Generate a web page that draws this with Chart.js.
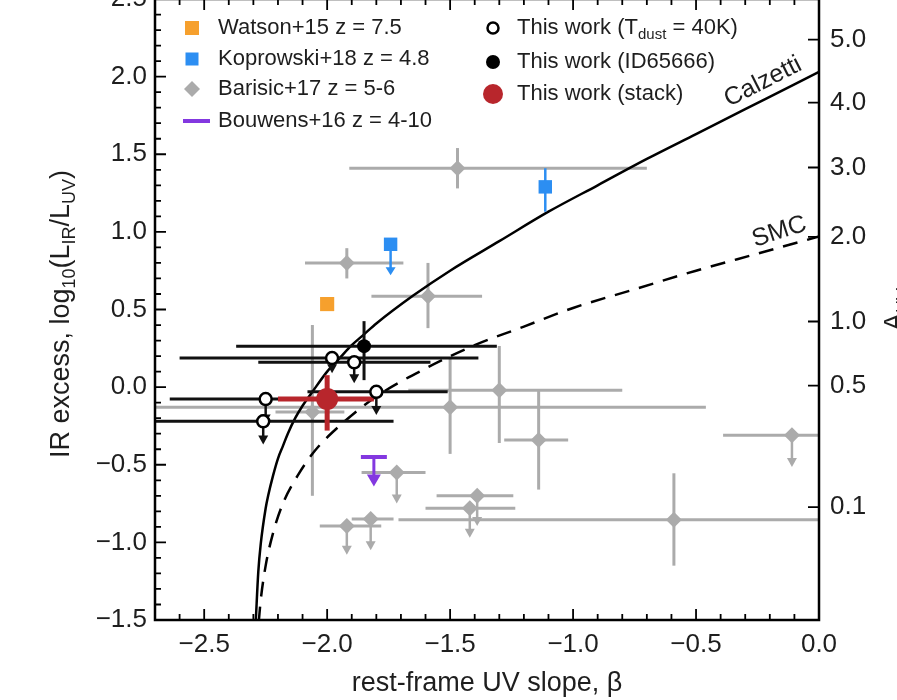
<!DOCTYPE html>
<html><head><meta charset="utf-8">
<script src="https://cdn.jsdelivr.net/npm/chart.js@4.4.0/dist/chart.umd.min.js"></script>
<style>
html,body{margin:0;padding:0;background:#fff;overflow:hidden;width:897px;height:700px}
#wrap{position:absolute;left:0;top:-20px;width:897px;height:720px}
</style></head><body>
<div id="wrap"><canvas id="c" width="897" height="720"></canvas></div>
<script>
const FONT = "'Liberation Sans', Arial, Helvetica, sans-serif";
const OY = 20; // canvas is shifted up by this many pixels (top of figure is cropped)

// ---- Barisic+17 z = 5-6 (detections) ----
const barBeta    = [-1.47, -1.92, -1.59, -2.06, -1.50, -1.30, -1.14, -0.59];
const barIRX     = [ 1.41,  0.80,  0.585,-0.16, -0.13, -0.02, -0.34, -0.855];
const barBetaLo  = [-1.91, -2.09, -1.82, -2.21, -2.80, -1.67, -1.28, -1.71];
const barBetaHi  = [-0.70, -1.69, -1.37, -1.93, -0.46, -0.80, -1.02,  0.05];
const barIRXLo   = [ 1.28,  0.70,  0.38, -0.70, -0.43, -0.36, -0.66, -1.15];
const barIRXHi   = [ 1.54,  0.895, 0.80,  0.40,  0.19,  0.265,-0.02, -0.555];
// ---- Barisic+17 upper limits ----
const barULBeta   = [-0.11, -1.717, -1.39, -1.42, -1.823, -1.92];
const barULIRX    = [-0.31, -0.55,  -0.70, -0.78, -0.85,  -0.895];
const barULBetaLo = [-0.39, -1.86,  -1.555,-1.60, -1.90,  -2.03];
const barULBetaHi = [ 0.00, -1.60,  -1.243,-1.235,-1.73,  -1.78];
const barULTip    = [-0.515,-0.75,  -0.895,-0.97, -1.05,  -1.08];
// ---- Watson+15 ----
const watBeta = [-2.0];
const watIRX  = [0.535];
// ---- Koprowski+18 ----
const kopBeta  = [-1.113];
const kopIRX   = [1.29];
const kopIRXLo = [1.13];
const kopIRXHi = [1.41];
const kopULBeta = [-1.742];
const kopULIRX  = [0.92];
const kopULTip  = [0.72];
// ---- Bouwens+16 ----
const bouBeta = [-1.81];
const bouIRX  = [-0.45];
const bouTip  = [-0.64];
// ---- This work (T_dust = 40K), upper limits ----
const twBeta   = [-1.98, -1.89, -1.80, -2.25, -2.26];
const twIRX    = [0.187, 0.16, -0.03, -0.077, -0.22];
const twBetaLo = [-2.60, -2.28, -2.08, -2.64, -2.80];
const twBetaHi = [-1.385,-1.58, -1.51, -1.85, -1.73];
const twTip    = [0.09, 0.025, -0.18, -0.235, -0.37];
// ---- This work (ID65666) ----
const idBeta = [-1.85];
const idIRX = [0.264];
const idBetaLo = [-2.37], idBetaHi = [-1.31];
const idIRXLo = [0.045], idIRXHi = [0.425];
// ---- This work (stack) ----
const stBeta = [-2.0];
const stIRX = [-0.077];
const stBetaLo = [-2.20], stBetaHi = [-1.81];
const stIRXLo = [-0.28], stIRXHi = [0.077];
// ---- relations ----
const calzBeta = [-2.29,-2.28,-2.27,-2.25,-2.24,-2.22,-2.2,-2.18,-2.16,-2.13,-2.1,-2.06,-2.0,-1.95,-1.9,-1.85,-1.8,-1.65,-1.5,-1.3,-1.1,-0.9,-0.7,-0.5,-0.3,-0.1,0.0];
const calzIRX  = [-1.50,-1.19,-1.01,-0.78,-0.70,-0.57,-0.46,-0.38,-0.30,-0.20,-0.12,-0.03,0.10,0.185,0.27,0.34,0.41,0.59,0.75,0.94,1.13,1.30,1.47,1.63,1.79,1.95,2.03];
const smcBeta = [-2.278,-2.27,-2.25,-2.22,-2.18,-2.12,-2.05,-1.95,-1.8,-1.6,-1.4,-1.2,-1.0,-0.75,-0.5,-0.25,0.0];
const smcIRX  = [-1.51,-1.37,-1.15,-0.94,-0.75,-0.57,-0.41,-0.25,-0.06,0.12,0.27,0.39,0.51,0.63,0.75,0.86,0.97];
// ---- axes ----
const xRange = [-2.7, 0.0];
const yRange = [-1.5, 2.5];
const auvTickLabels = [0.1, 0.5, 1.0, 2.0, 3.0, 4.0, 5.0];
const irxOfAuv = a => Math.log10(1.75 * (Math.pow(10, 0.4 * a) - 1));

const C_GREY = '#ababab', C_ORANGE = '#f6a02d', C_BLUE = '#2c8ef2', C_PURPLE = '#8338e0', C_RED = '#b8262c';

const pts = (xs, ys) => xs.map((x, i) => ({x: x, y: ys[i]}));
const minus = s => s.replace('-', '\u2212');

function arrow(ctx, x, y0, y1, color, w, head, hw) {
  ctx.strokeStyle = color; ctx.fillStyle = color; ctx.lineWidth = w;
  ctx.beginPath(); ctx.moveTo(x, y0); ctx.lineTo(x, y1 - head + 1); ctx.stroke();
  ctx.beginPath(); ctx.moveTo(x - hw, y1 - head); ctx.lineTo(x + hw, y1 - head); ctx.lineTo(x, y1); ctx.closePath(); ctx.fill();
}

const errPlugin = {
  id: 'errbars',
  beforeDatasetDraw(chart, args) {
    const ds = chart.data.datasets[args.index];
    const e = ds.err; if (!e) return;
    const ctx = chart.ctx, xs = chart.scales.x, ys = chart.scales.y, a = chart.chartArea;
    ctx.save();
    ctx.beginPath(); ctx.rect(a.left, a.top, a.right - a.left, a.bottom - a.top); ctx.clip();
    ctx.lineCap = 'butt';
    ds.data.forEach((p, i) => {
      const px = xs.getPixelForValue(p.x), py = ys.getPixelForValue(p.y);
      ctx.strokeStyle = e.color; ctx.lineWidth = e.w;
      if (e.xlo) {
        ctx.beginPath(); ctx.moveTo(xs.getPixelForValue(e.xlo[i]), py); ctx.lineTo(xs.getPixelForValue(e.xhi[i]), py); ctx.stroke();
      }
      if (e.ylo) {
        ctx.beginPath(); ctx.moveTo(px, ys.getPixelForValue(e.ylo[i])); ctx.lineTo(px, ys.getPixelForValue(e.yhi[i])); ctx.stroke();
      }
      if (e.tip) {
        arrow(ctx, px, py, ys.getPixelForValue(e.tip[i]), e.color, e.aw || 2.5, e.head || 9, e.hw || 5);
      }
    });
    ctx.restore();
  }
};

function drawTextRuns(ctx, runs, x, y) {
  let cx = x;
  runs.forEach(r => {
    ctx.font = r[1] + 'px ' + FONT;
    ctx.fillText(r[0], cx, y + (r[2] || 0));
    cx += ctx.measureText(r[0]).width;
  });
}

const decoPlugin = {
  id: 'deco',
  afterDatasetsDraw(chart) {
    const ctx = chart.ctx, xs = chart.scales.x, ys = chart.scales.y, a = chart.chartArea;
    ctx.save();
    // frame
    ctx.strokeStyle = '#000'; ctx.lineWidth = 2.5;
    ctx.strokeRect(a.left, a.top, a.right - a.left, a.bottom - a.top);
    // ticks (inward)
    ctx.lineWidth = 1.8;
    ctx.beginPath();
    for (let k = -27; k <= 0; k++) {
      const v = k / 10, px = xs.getPixelForValue(v), L = (k % 5 === 0) ? 11 : 6;
      ctx.moveTo(px, a.bottom); ctx.lineTo(px, a.bottom - L);
      ctx.moveTo(px, a.top); ctx.lineTo(px, a.top + L);
    }
    for (let k = -15; k <= 25; k++) {
      const v = k / 10, py = ys.getPixelForValue(v), L = (k % 5 === 0) ? 11 : 6;
      ctx.moveTo(a.left, py); ctx.lineTo(a.left + L, py);
    }
    auvTickLabels.forEach(t => {
      const py = ys.getPixelForValue(irxOfAuv(t));
      ctx.moveTo(a.right, py); ctx.lineTo(a.right - 11, py);
    });
    ctx.stroke();

    ctx.translate(0, OY); // work in page coordinates from here on
    ctx.fillStyle = '#1e1e1e';
    ctx.textBaseline = 'alphabetic';
    ctx.textAlign = 'left';
    // x title
    ctx.font = '27px ' + FONT;
    ctx.textAlign = 'center';
    ctx.fillText('rest-frame UV slope, \u03b2', (a.left + a.right) / 2, 691);
    ctx.textAlign = 'left';
    // y title
    ctx.save();
    ctx.translate(69, 458); ctx.rotate(-Math.PI / 2);
    drawTextRuns(ctx, [['IR excess, log', 27], ['10', 18, 6], ['(L', 27], ['IR', 18, 6], ['/L', 27], ['UV', 18, 6], [')', 27]], 0, 0);
    ctx.restore();
    // right title
    ctx.save();
    ctx.translate(903, 331); ctx.rotate(-Math.PI / 2);
    drawTextRuns(ctx, [['A', 27], ['UV', 18, 6]], 0, 0);
    ctx.restore();
    // curve labels
    ctx.save();
    ctx.translate(729, 107); ctx.rotate(-27 * Math.PI / 180);
    ctx.font = '25px ' + FONT; ctx.fillText('Calzetti', 0, 0);
    ctx.restore();
    ctx.save();
    ctx.translate(755, 247); ctx.rotate(-18 * Math.PI / 180);
    ctx.font = '25px ' + FONT; ctx.fillText('SMC', 0, 0);
    ctx.restore();

    // legend
    ctx.textBaseline = 'middle';
    ctx.font = '22px ' + FONT;
    const col1 = [['Watson+15 z = 7.5', 28], ['Koprowski+18 z = 4.8', 59], ['Barisic+17 z = 5-6', 89], ['Bouwens+16 z = 4-10', 121]];
    col1.forEach(r => ctx.fillText(r[0], 218, r[1]));
    ctx.fillStyle = C_ORANGE; ctx.fillRect(185, 21, 14, 14);
    ctx.fillStyle = C_BLUE; ctx.fillRect(185.5, 52.5, 13, 13);
    ctx.fillStyle = C_GREY;
    ctx.beginPath(); ctx.moveTo(192, 81); ctx.lineTo(200, 89); ctx.lineTo(192, 97); ctx.lineTo(184, 89); ctx.closePath(); ctx.fill();
    ctx.strokeStyle = C_PURPLE; ctx.lineWidth = 4;
    ctx.beginPath(); ctx.moveTo(183, 121); ctx.lineTo(210, 121); ctx.stroke();

    ctx.fillStyle = '#1e1e1e';
    drawTextRuns(ctx, [['This work (T', 22], ['dust', 15, 7], [' = 40K)', 22]], 517, 28);
    ctx.font = '22px ' + FONT;
    ctx.fillText('This work (ID65666)', 517, 62);
    ctx.fillText('This work (stack)', 517, 94);
    ctx.strokeStyle = '#000'; ctx.lineWidth = 2.5; ctx.fillStyle = '#fff';
    ctx.beginPath(); ctx.arc(493, 28, 5.5, 0, Math.PI * 2); ctx.fill(); ctx.stroke();
    ctx.fillStyle = '#000';
    ctx.beginPath(); ctx.arc(493, 62, 7, 0, Math.PI * 2); ctx.fill();
    ctx.fillStyle = C_RED;
    ctx.beginPath(); ctx.arc(493, 94, 10, 0, Math.PI * 2); ctx.fill();
    ctx.restore();
  }
};

const tickFont = {family: FONT, size: 26};
const data = {
  datasets: [
    { label: 'This work (T_dust = 40K)', data: pts(twBeta, twIRX), order: 1,
      pointStyle: 'circle', pointRadius: 6, borderWidth: 2.5, borderColor: '#000', backgroundColor: '#fff' },
    { label: 'This work (stack)', data: pts(stBeta, stIRX), order: 2,
      pointStyle: 'circle', pointRadius: 11, borderWidth: 0, backgroundColor: C_RED, borderColor: C_RED,
      err: {xlo: stBetaLo, xhi: stBetaHi, ylo: stIRXLo, yhi: stIRXHi, color: C_RED, w: 5} },
    { label: 'This work (ID65666)', data: pts(idBeta, idIRX), order: 3,
      pointStyle: 'circle', pointRadius: 7, borderWidth: 0, backgroundColor: '#000', borderColor: '#000',
      err: {xlo: idBetaLo, xhi: idBetaHi, ylo: idIRXLo, yhi: idIRXHi, color: '#111', w: 3} },
    { label: 'This work limits', data: pts(twBeta, twIRX), order: 4,
      pointRadius: 0, borderWidth: 0, backgroundColor: 'rgba(0,0,0,0)',
      err: {xlo: twBetaLo, xhi: twBetaHi, tip: twTip, color: '#111', w: 3, aw: 2.5, head: 9, hw: 5} },
    { label: 'Bouwens+16 z = 4-10', data: pts(bouBeta, bouIRX), order: 5,
      pointStyle: 'line', pointRadius: 13, borderWidth: 4, borderColor: C_PURPLE, backgroundColor: C_PURPLE,
      err: {tip: bouTip, color: C_PURPLE, w: 3, aw: 3, head: 12, hw: 7} },
    { label: 'Koprowski+18 limit', data: pts(kopULBeta, kopULIRX), order: 6,
      pointStyle: 'rect', pointRadius: 9.5, borderWidth: 0, backgroundColor: C_BLUE,
      err: {tip: kopULTip, color: C_BLUE, w: 2.5, aw: 2.5, head: 8, hw: 5} },
    { label: 'Koprowski+18 z = 4.8', data: pts(kopBeta, kopIRX), order: 7,
      pointStyle: 'rect', pointRadius: 9.5, borderWidth: 0, backgroundColor: C_BLUE,
      err: {ylo: kopIRXLo, yhi: kopIRXHi, color: C_BLUE, w: 2.5} },
    { label: 'Watson+15 z = 7.5', data: pts(watBeta, watIRX), order: 8,
      pointStyle: 'rect', pointRadius: 10, borderWidth: 0, backgroundColor: C_ORANGE },
    { label: 'Calzetti', data: pts(calzBeta, calzIRX), order: 9, showLine: true,
      pointRadius: 0, borderColor: '#000', borderWidth: 2.5, cubicInterpolationMode: 'monotone', fill: false },
    { label: 'SMC', data: pts(smcBeta, smcIRX), order: 10, showLine: true,
      pointRadius: 0, borderColor: '#000', borderWidth: 2.5, borderDash: [15, 10], cubicInterpolationMode: 'monotone', fill: false },
    { label: 'Barisic+17 limits', data: pts(barULBeta, barULIRX), order: 11,
      pointStyle: 'rectRot', pointRadius: 8, borderWidth: 0, backgroundColor: C_GREY,
      err: {xlo: barULBetaLo, xhi: barULBetaHi, tip: barULTip, color: C_GREY, w: 3, aw: 2.5, head: 9, hw: 5} },
    { label: 'Barisic+17 z = 5-6', data: pts(barBeta, barIRX), order: 12,
      pointStyle: 'rectRot', pointRadius: 8, borderWidth: 0, backgroundColor: C_GREY,
      err: {xlo: barBetaLo, xhi: barBetaHi, ylo: barIRXLo, yhi: barIRXHi, color: C_GREY, w: 3} }
  ]
};

const noVPad = s => { s.paddingTop = 0; s.paddingBottom = 0; };

new Chart(document.getElementById('c'), {
  type: 'scatter',
  data: data,
  plugins: [errPlugin, decoPlugin],
  options: {
    responsive: false, animation: false, devicePixelRatio: 1,
    layout: {padding: {top: 19, left: 0, right: 0, bottom: 0}, autoPadding: false},
    plugins: {legend: {display: false}, tooltip: {enabled: false}},
    scales: {
      x: {
        type: 'linear', position: 'bottom', min: xRange[0], max: xRange[1],
        afterFit: s => { s.height = 80; s.paddingLeft = 0; s.paddingRight = 0; },
        grid: {display: false, drawTicks: false}, border: {display: false},
        ticks: {stepSize: 0.5, includeBounds: false, padding: 9, font: tickFont, color: '#1e1e1e',
                maxRotation: 0, autoSkip: false,
                callback: v => minus(Number(v).toFixed(1))}
      },
      y: {
        type: 'linear', position: 'left', min: yRange[0], max: yRange[1],
        afterFit: s => { s.width = 155; noVPad(s); },
        grid: {display: false, drawTicks: false}, border: {display: false},
        ticks: {stepSize: 0.5, padding: 8, font: tickFont, color: '#1e1e1e', autoSkip: false,
                callback: v => minus(Number(v).toFixed(1))}
      },
      y2: {
        type: 'linear', position: 'right', min: yRange[0], max: yRange[1],
        afterFit: s => { s.width = 78; noVPad(s); },
        afterBuildTicks: s => { s.ticks = auvTickLabels.map(t => ({value: irxOfAuv(t)})); },
        grid: {display: false, drawTicks: false}, border: {display: false},
        ticks: {padding: 11, font: tickFont, color: '#1e1e1e', autoSkip: false,
                callback: (v, i) => auvTickLabels[i].toFixed(1)}
      }
    }
  }
});
</script>
</body></html>
